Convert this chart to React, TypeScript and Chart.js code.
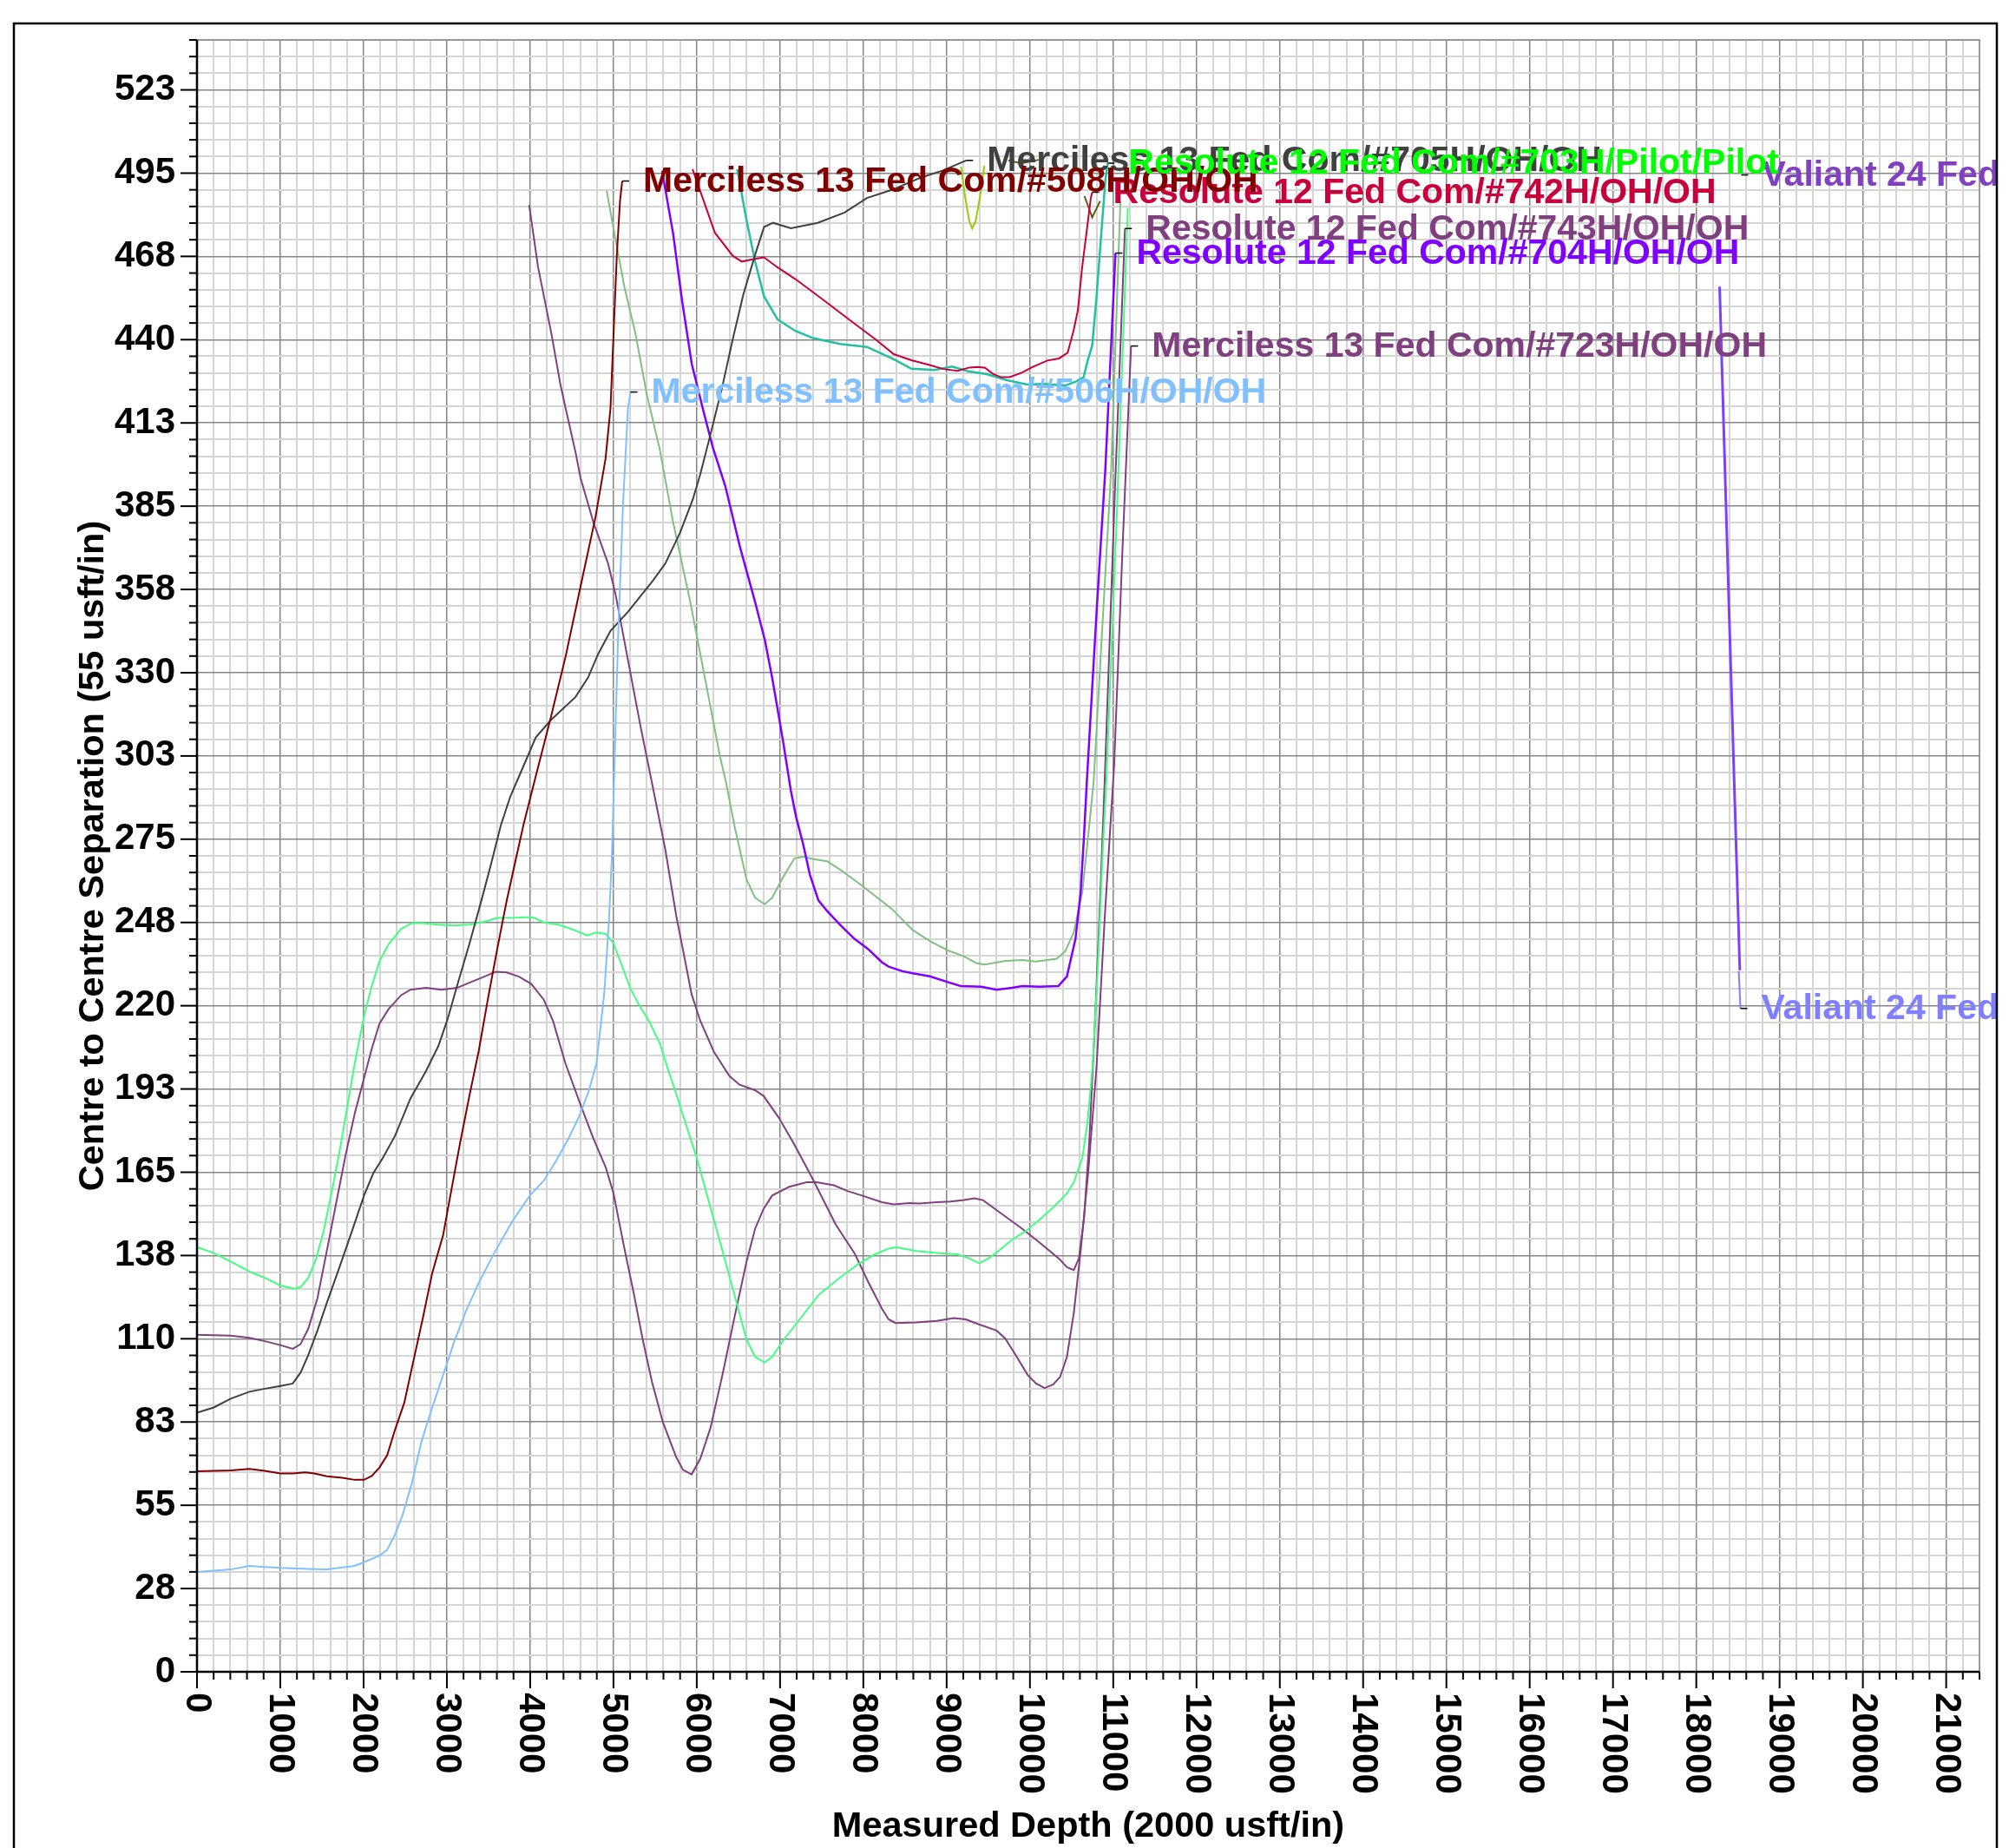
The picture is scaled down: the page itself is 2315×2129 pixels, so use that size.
import React, { useEffect, useRef } from 'react';
import { Chart, registerables } from 'chart.js';

Chart.register(...registerables);

type Pt = [number, number];

// ---------- axes ----------
const X_MAX = 21400;
const X_MAJOR_STEP = 1000;
const X_MINOR_STEP = 200;
const Y_MAX = 539;
const Y_MAJOR_STEP = 27.5;
const Y_MINOR_STEP = 5.5;

const xTickLabels = [
  '0', '1000', '2000', '3000', '4000', '5000', '6000', '7000', '8000', '9000', '10000',
  '11000', '12000', '13000', '14000', '15000', '16000', '17000', '18000', '19000', '20000', '21000',
];
const yTickLabels = [
  '0', '28', '55', '83', '110', '138', '165', '193', '220', '248', '275',
  '303', '330', '358', '385', '413', '440', '468', '495', '523',
];
const xAxisTitle = 'Measured Depth (2000 usft/in)';
const yAxisTitle = 'Centre to Centre Separation (55 usft/in)';

// ---------- series (measured depth, centre-to-centre separation) ----------
const merciless508H: Pt[] = [
  [0, 66.2], [405, 66.5], [629, 67.0], [815, 66.4], [1001, 65.5], [1150, 65.5], [1299, 65.9], [1410, 65.5],
  [1559, 64.6], [1745, 64.1], [1894, 63.4], [2005, 63.4], [2098, 64.7], [2191, 67.5], [2284, 71.6], [2377, 79.9],
  [2489, 88.9], [2600, 102.9], [2712, 116.9], [2824, 131.7], [2954, 144.1], [3047, 158.1], [3158, 174.6],
  [3270, 190.2], [3382, 205.0], [3493, 222.3], [3605, 238.8], [3716, 254.4], [3828, 268.4], [3921, 279.9],
  [4067, 295.8], [4246, 315.0], [4426, 335.4], [4605, 358.5], [4785, 381.5], [4905, 400.7], [4964, 417.3],
  [4998, 439.8], [5041, 468.3], [5079, 485.9], [5105, 492.4],
];

const merciless506H: Pt[] = [
  [0, 33.0], [405, 33.8], [629, 35.0], [815, 34.6], [1001, 34.3], [1336, 34.0], [1559, 33.8], [1708, 34.3],
  [1894, 35.0], [2005, 36.2], [2191, 38.4], [2284, 40.3], [2377, 45.3], [2470, 51.9], [2582, 62.6], [2693, 75.8],
  [2805, 85.7], [2935, 96.4], [3084, 108.7], [3233, 119.4], [3382, 128.4], [3568, 138.3], [3791, 149.0],
  [3996, 157.3], [4163, 162.2], [4312, 168.8], [4461, 176.2], [4591, 183.6], [4703, 191.8], [4796, 200.9],
  [4889, 224.0], [4944, 247.0], [4982, 270.1], [5054, 340.5], [5114, 385.3], [5174, 417.3], [5204, 422.7],
];

const merciless705H: Pt[] = [
  [0, 85.6], [201, 87.3], [405, 90.2], [629, 92.5], [815, 93.5], [1001, 94.4], [1150, 95.2], [1243, 98.8],
  [1336, 104.6], [1447, 112.8], [1559, 121.9], [1708, 133.4], [1856, 145.2], [2005, 157.3], [2117, 164.7],
  [2228, 169.6], [2377, 177.0], [2563, 189.4], [2749, 198.4], [2898, 206.7], [3010, 215.7], [3121, 226.4],
  [3270, 240.4], [3419, 255.2], [3530, 266.8], [3648, 279.6], [3760, 289.0], [3887, 297.1], [4067, 308.6],
  [4246, 314.3], [4545, 322.0], [4695, 328.4], [4815, 336.1], [4964, 343.8], [5174, 350.1], [5474, 360.4],
  [5623, 366.1], [5802, 376.4], [5952, 387.2], [6042, 395.5], [6161, 408.3], [6311, 425.0], [6431, 440.0],
  [6560, 455.0], [6700, 468.0], [6808, 477.2], [6916, 478.6], [7130, 476.8], [7452, 478.6], [7774, 482.0],
  [8043, 486.8], [8365, 489.7], [8687, 493.5], [8955, 495.9], [9234, 499.2],
];

const springGreenOffset: Pt[] = [
  [0, 140.3], [201, 138.3], [405, 135.5], [629, 132.2], [815, 130.1], [1001, 127.6], [1168, 126.5], [1243, 127.0],
  [1336, 130.1], [1429, 136.3], [1522, 145.7], [1615, 158.1], [1708, 171.3], [1801, 186.1], [1894, 200.9],
  [2005, 216.5], [2098, 226.4], [2191, 234.7], [2303, 240.4], [2452, 245.4], [2582, 247.3], [2712, 247.3],
  [2898, 246.8], [3084, 246.5], [3270, 246.8], [3456, 247.8], [3605, 249.0], [3828, 249.1], [3996, 249.3],
  [4052, 249.0], [4164, 247.5], [4350, 246.7], [4536, 244.9], [4685, 243.2], [4795, 244.2], [4907, 243.7],
  [5000, 240.7], [5093, 233.8], [5205, 225.6], [5316, 219.8], [5428, 214.9], [5558, 207.5], [5651, 199.3],
  [5753, 190.9], [6000, 169.7], [6206, 149.3], [6411, 128.8], [6597, 109.8], [6700, 104.0], [6815, 102.2],
  [6905, 104.0], [7029, 109.1], [7235, 116.4], [7461, 124.4], [7687, 129.5], [7934, 134.6], [8140, 137.9],
  [8304, 139.8], [8407, 140.2], [8634, 139.0], [8881, 138.3], [9127, 137.9], [9251, 136.8], [9395, 134.9],
  [9518, 136.8], [9621, 139.0], [9786, 142.7], [9950, 145.6], [10115, 149.3], [10280, 153.4], [10444, 158.0],
  [10527, 161.7], [10629, 169.7], [10691, 181.4], [10753, 200.4], [10815, 232.6], [10876, 272.1], [10917, 294.0],
  [11040, 380.0], [11176, 483.5],
];

const resolute743H: Pt[] = [
  [0, 111.3], [405, 111.0], [629, 110.3], [815, 109.2], [1001, 107.9], [1150, 106.7], [1243, 108.2], [1336, 113.3],
  [1447, 123.5], [1559, 139.1], [1671, 154.8], [1782, 170.4], [1894, 184.4], [2005, 196.0], [2098, 205.8],
  [2191, 214.1], [2303, 219.0], [2452, 223.5], [2563, 225.3], [2749, 225.9], [2935, 225.3], [3121, 225.9],
  [3270, 227.6], [3456, 229.7], [3586, 231.2], [3716, 231.0], [3865, 229.6], [4014, 227.2], [4163, 222.0],
  [4275, 214.9], [4424, 200.9], [4610, 186.9], [4758, 176.2], [4907, 166.6], [5000, 158.1], [5130, 140.0],
  [5242, 125.2], [5353, 109.5], [5465, 95.5], [5595, 82.3], [5755, 70.8], [5835, 66.7], [5938, 65.2],
  [6041, 70.3], [6165, 80.6], [6309, 98.1], [6453, 117.1], [6597, 135.4], [6700, 146.3], [6802, 152.9],
  [6905, 157.3], [7111, 160.2], [7317, 161.7], [7440, 161.7], [7646, 160.7], [7811, 158.8], [8016, 157.0],
  [8222, 155.1], [8366, 154.4], [8551, 154.8], [8675, 154.7], [8880, 155.1], [9045, 155.3], [9210, 155.8],
  [9333, 156.4], [9436, 155.8], [9580, 152.9], [9745, 149.6], [9909, 146.3], [10074, 142.7], [10239, 139.0],
  [10362, 136.1], [10444, 133.6], [10527, 132.7], [10588, 136.6], [10650, 150.0], [10712, 175.0],
  [10773, 210.0], [10835, 250.0], [10897, 294.0], [11020, 390.0], [11141, 476.7],
];

const merciless723H: Pt[] = [
  [3988, 484.5], [4095, 463.9], [4255, 442.0], [4361, 425.5], [4426, 417.3], [4547, 402.5], [4605, 394.3],
  [4760, 379.6], [4935, 366.1], [5025, 355.9], [5174, 334.2], [5324, 312.4], [5474, 292.0], [5623, 271.5],
  [5755, 249.5], [5835, 238.4], [5938, 223.8], [6041, 215.1], [6206, 204.8], [6391, 196.8], [6514, 193.9],
  [6700, 192.1], [6802, 190.2], [6988, 182.9], [7173, 174.1], [7399, 162.4], [7667, 147.8], [7893, 138.3],
  [8058, 128.8], [8222, 120.0], [8304, 116.4], [8387, 115.2], [8634, 115.4], [8880, 115.9], [9086, 116.8],
  [9231, 116.4], [9374, 114.9], [9600, 112.7], [9703, 110.1], [9827, 104.7], [9971, 98.1], [10074, 95.2],
  [10177, 93.7], [10280, 94.9], [10362, 97.4], [10444, 104.0], [10527, 118.6], [10609, 139.0], [10700, 165.0],
  [10800, 200.0], [10900, 250.0], [11012, 300.0], [11110, 370.0], [11214, 437.9],
];

const resolute704H: Pt[] = [
  [5584, 495.7], [5717, 474.9], [5823, 453.0], [5940, 432.0], [6072, 417.3], [6192, 404.5], [6342, 391.7],
  [6521, 371.3], [6700, 353.4], [6819, 340.6], [6909, 327.8], [7029, 308.6], [7130, 291.0], [7193, 282.3],
  [7276, 273.5], [7358, 263.3], [7461, 254.8], [7564, 251.3], [7728, 246.5], [7893, 242.1], [8058, 238.7],
  [8222, 234.4], [8304, 232.9], [8469, 231.4], [8592, 230.7], [8798, 229.7], [9004, 227.9], [9169, 226.5],
  [9415, 226.3], [9600, 225.3], [9786, 225.9], [9909, 226.5], [10115, 226.3], [10341, 226.5], [10444, 229.7],
  [10547, 242.1], [10609, 257.5], [10650, 276.5], [10683, 294.0], [10800, 350.0], [10905, 397.0],
  [11027, 468.6],
];

const mutedGreenOffset: Pt[] = [
  [4919, 489.2], [4998, 477.1], [5132, 457.3], [5264, 442.0], [5398, 422.2], [5557, 403.6], [5717, 379.6],
  [5922, 353.4], [6101, 327.8], [6280, 302.2], [6350, 294.0], [6453, 279.4], [6597, 261.8], [6700, 255.7],
  [6815, 253.5], [6905, 255.7], [7029, 262.1], [7173, 268.7], [7276, 269.2], [7399, 268.4], [7564, 267.7],
  [7728, 264.8], [7934, 260.7], [8140, 256.3], [8345, 251.9], [8592, 245.0], [8798, 241.4], [9004, 238.4],
  [9210, 236.3], [9354, 234.1], [9457, 233.6], [9704, 234.8], [9909, 235.1], [10074, 234.6], [10321, 235.5],
  [10424, 238.0], [10527, 244.3], [10629, 257.5], [10712, 279.4], [10765, 294.0], [10975, 397.0],
  [11086, 485.8],
];

const resolute742H: Pt[] = [
  [5949, 496.3], [6218, 475.3], [6432, 467.7], [6540, 465.8], [6700, 466.7], [6808, 467.2], [6969, 463.9],
  [7184, 460.0], [7506, 453.4], [7827, 446.7], [8150, 440.0], [8365, 435.2], [8577, 433.2], [8786, 431.7],
  [8960, 430.3], [9133, 429.7], [9272, 430.8], [9376, 431.0], [9462, 430.7], [9549, 428.8], [9653, 427.6],
  [9757, 427.6], [9896, 429.0], [10035, 431.0], [10209, 433.1], [10348, 433.8], [10453, 435.7], [10523, 442.9],
  [10575, 449.6], [10627, 463.9], [10679, 475.3], [10731, 486.8], [10748, 488.7],
];

const resolute703HPilot: Pt[] = [
  [6486, 496.3], [6593, 480.1], [6700, 465.8], [6808, 454.3], [6969, 446.7], [7184, 442.9], [7398, 440.5],
  [7720, 438.6], [8043, 437.6], [8365, 433.5], [8577, 430.4], [8855, 430.0], [9063, 431.1], [9272, 429.5],
  [9480, 428.6], [9723, 426.6], [9967, 425.2], [10175, 425.4], [10418, 424.8], [10557, 426.2], [10644, 427.6],
  [10696, 433.3], [10748, 438.1], [10800, 454.3], [10852, 473.4], [10905, 492.5], [10933, 498.3],
];

const oliveDip: Pt[] = [
  [9172, 497.2], [9219, 487.7], [9272, 479.1], [9307, 476.7], [9348, 479.1], [9404, 487.7], [9453, 497.5],
];
const darkOliveA: Pt[] = [[9741, 499.2], [9897, 498.2], [10105, 499.4]];
const darkOliveB: Pt[] = [[10655, 487.4], [10748, 480.4], [10842, 485.8]];

const valiant24A: Pt[] = [[18280, 457.5], [18400, 344.6], [18523, 231.7]];
const valiant24B: Pt[] = [[18510, 231.4], [18530, 219.1]];

// ---------- styling per series ----------
interface SeriesDef { data: Pt[]; color: string; width: number }
const seriesList: SeriesDef[] = [
  { data: merciless508H, color: '#800000', width: 2 },
  { data: merciless506H, color: '#80C0FF', width: 2 },
  { data: merciless705H, color: '#404040', width: 2 },
  { data: resolute742H, color: '#C8003C', width: 2 },
  { data: resolute703HPilot, color: '#20C0A0', width: 2.5 },
  { data: resolute704H, color: '#8000FF', width: 2.5 },
  { data: mutedGreenOffset, color: '#80C080', width: 2 },
  { data: springGreenOffset, color: '#40FF80', width: 2 },
  { data: resolute743H, color: '#804080', width: 2 },
  { data: merciless723H, color: '#804080', width: 2 },
  { data: oliveDip, color: '#99CC00', width: 2 },
  { data: darkOliveA, color: '#5C5C10', width: 2 },
  { data: darkOliveB, color: '#5C5C10', width: 2 },
  { data: valiant24A, color: '#7F3FFF', width: 3 },
  { data: valiant24B, color: '#8080FF', width: 2 },
];

interface WellLabel { text: string; color: string; series?: Pt[]; at?: Pt }
const wellLabels: WellLabel[] = [
  { text: 'Valiant 24 Fed', color: '#8040C0', at: [18540, 494.4] },
  { text: 'Resolute 12 Fed Com/#742H/OH/OH', color: '#C8003C', series: resolute742H },
  { text: 'Merciless 13 Fed Com/#705H/OH/OH', color: '#404040', series: merciless705H },
  { text: 'Merciless 13 Fed Com/#508H/OH/OH', color: '#800000', series: merciless508H },
  { text: 'Resolute 12 Fed Com/#703H/Pilot/Pilot', color: '#00FF00', series: resolute703HPilot },
  { text: 'Resolute 12 Fed Com/#743H/OH/OH', color: '#804080', series: resolute743H },
  { text: 'Resolute 12 Fed Com/#704H/OH/OH', color: '#8000FF', series: resolute704H },
  { text: 'Merciless 13 Fed Com/#723H/OH/OH', color: '#804080', series: merciless723H },
  { text: 'Merciless 13 Fed Com/#506H/OH/OH', color: '#80C0FF', series: merciless506H },
  { text: 'Valiant 24 Fed', color: '#8080FF', series: valiant24B },
];

const FONT_FAMILY = "'Liberation Sans', Arial, sans-serif";
const W = 2315;
const H = 2129;

const isMajor = (v: number, step: number) => Math.abs(v / step - Math.round(v / step)) < 1e-6;

const overlayPlugin = {
  id: 'overlay',
  afterDraw(chart: any) {
    const ctx: CanvasRenderingContext2D = chart.ctx;
    const xs = chart.scales.x;
    const ys = chart.scales.y;
    const { left, right, top, bottom } = chart.chartArea;
    ctx.save();

    // plot edges (top / right)
    ctx.strokeStyle = '#858585';
    ctx.lineWidth = 1.5;
    ctx.beginPath();
    ctx.moveTo(left, top);
    ctx.lineTo(right, top);
    ctx.lineTo(right, bottom);
    ctx.stroke();

    // tick marks
    ctx.strokeStyle = '#000';
    ctx.lineWidth = 2;
    const nY = Math.round(Y_MAX / Y_MINOR_STEP);
    for (let i = 0; i <= nY; i++) {
      const v = i * Y_MINOR_STEP;
      const y = ys.getPixelForValue(v);
      const len = isMajor(v, Y_MAJOR_STEP) ? 19 : 9;
      ctx.beginPath();
      ctx.moveTo(left - len, y);
      ctx.lineTo(left, y);
      ctx.stroke();
    }
    const nX = Math.round(X_MAX / X_MINOR_STEP);
    for (let i = 0; i <= nX; i++) {
      const v = i * X_MINOR_STEP;
      const x = xs.getPixelForValue(v);
      const len = isMajor(v, X_MAJOR_STEP) ? 19 : 9;
      ctx.beginPath();
      ctx.moveTo(x, bottom);
      ctx.lineTo(x, bottom + len);
      ctx.stroke();
    }

    // axis lines
    ctx.lineWidth = 2.5;
    ctx.beginPath();
    ctx.moveTo(left, top);
    ctx.lineTo(left, bottom);
    ctx.lineTo(right, bottom);
    ctx.stroke();

    // tick labels
    ctx.fillStyle = '#000';
    ctx.font = `bold 42px ${FONT_FAMILY}`;
    ctx.textAlign = 'right';
    ctx.textBaseline = 'middle';
    yTickLabels.forEach((lab, k) => {
      ctx.fillText(lab, left - 25, ys.getPixelForValue(k * Y_MAJOR_STEP));
    });
    xTickLabels.forEach((lab, k) => {
      const x = xs.getPixelForValue(k * X_MAJOR_STEP);
      ctx.save();
      ctx.translate(x, bottom + 24);
      ctx.rotate(Math.PI / 2);
      ctx.textAlign = 'left';
      ctx.textBaseline = 'middle';
      ctx.fillText(lab, 0, 0);
      ctx.restore();
    });

    // axis titles
    ctx.font = `bold 41.5px ${FONT_FAMILY}`;
    ctx.textAlign = 'center';
    ctx.textBaseline = 'middle';
    ctx.fillText(xAxisTitle, (left + right) / 2, 2105);
    ctx.save();
    ctx.translate(108, (top + bottom) / 2);
    ctx.rotate(-Math.PI / 2);
    ctx.fillText(yAxisTitle, 0, 0);
    ctx.restore();

    // well labels (clipped to the outer frame)
    ctx.save();
    ctx.beginPath();
    ctx.rect(17, 28, 2283, H);
    ctx.clip();
    ctx.font = `bold 41px ${FONT_FAMILY}`;
    ctx.textAlign = 'left';
    ctx.textBaseline = 'middle';
    wellLabels.forEach((lab) => {
      const anchor = lab.at ?? (lab.series as Pt[])[(lab.series as Pt[]).length - 1];
      const px = xs.getPixelForValue(anchor[0]);
      const py = ys.getPixelForValue(anchor[1]);
      ctx.strokeStyle = '#000';
      ctx.lineWidth = 1.5;
      ctx.beginPath();
      ctx.moveTo(px, py);
      ctx.lineTo(px + 8, py);
      ctx.stroke();
      ctx.fillStyle = lab.color;
      ctx.fillText(lab.text, px + 24, py + 1);
    });
    ctx.restore();

    // outer frame
    ctx.strokeStyle = '#000';
    ctx.lineWidth = 2.5;
    ctx.strokeRect(16, 27, 2285, H);

    ctx.restore();
  },
};

export default function App() {
  const canvasRef = useRef<HTMLCanvasElement | null>(null);

  useEffect(() => {
    document.body.style.margin = '0';
    document.body.style.overflow = 'hidden';
    const canvas = canvasRef.current;
    if (!canvas) return;

    const datasets = seriesList.map((s) => ({
      data: s.data.map(([x, y]) => ({ x, y })),
      borderColor: s.color,
      backgroundColor: s.color,
      borderWidth: s.width,
      showLine: true,
      pointRadius: 0,
      tension: 0,
      fill: false,
    }));

    const gridColor = (step: number) => (c: any) =>
      c.tick && isMajor(c.tick.value, step) ? '#858585' : '#d5d5d5';
    const gridWidth = (step: number) => (c: any) =>
      c.tick && isMajor(c.tick.value, step) ? 1.5 : 2;

    const chart = new Chart(canvas, {
      type: 'scatter',
      data: { datasets } as any,
      options: {
        animation: false,
        responsive: false,
        devicePixelRatio: 1,
        events: [],
        layout: { padding: { left: 227, top: 46, right: W - 2281, bottom: H - 1926 } },
        plugins: { legend: { display: false }, tooltip: { enabled: false } },
        scales: {
          x: {
            type: 'linear',
            min: 0,
            max: X_MAX,
            afterBuildTicks: (scale: any) => {
              const t = [];
              const n = Math.round(X_MAX / X_MINOR_STEP);
              for (let i = 0; i <= n; i++) t.push({ value: i * X_MINOR_STEP });
              scale.ticks = t;
            },
            ticks: { display: false },
            border: { display: false },
            grid: { color: gridColor(X_MAJOR_STEP), lineWidth: gridWidth(X_MAJOR_STEP), drawTicks: false },
          },
          y: {
            type: 'linear',
            min: 0,
            max: Y_MAX,
            afterBuildTicks: (scale: any) => {
              const t = [];
              const n = Math.round(Y_MAX / Y_MINOR_STEP);
              for (let i = 0; i <= n; i++) t.push({ value: i * Y_MINOR_STEP });
              scale.ticks = t;
            },
            ticks: { display: false },
            border: { display: false },
            grid: { color: gridColor(Y_MAJOR_STEP), lineWidth: gridWidth(Y_MAJOR_STEP), drawTicks: false },
          },
        },
      } as any,
      plugins: [overlayPlugin],
    });

    return () => chart.destroy();
  }, []);

  return (
    <div style={{ position: 'absolute', left: 0, top: 0, width: W, height: H, background: '#fff' }}>
      <canvas ref={canvasRef} width={W} height={H} style={{ width: W, height: H, display: 'block' }} />
    </div>
  );
}
